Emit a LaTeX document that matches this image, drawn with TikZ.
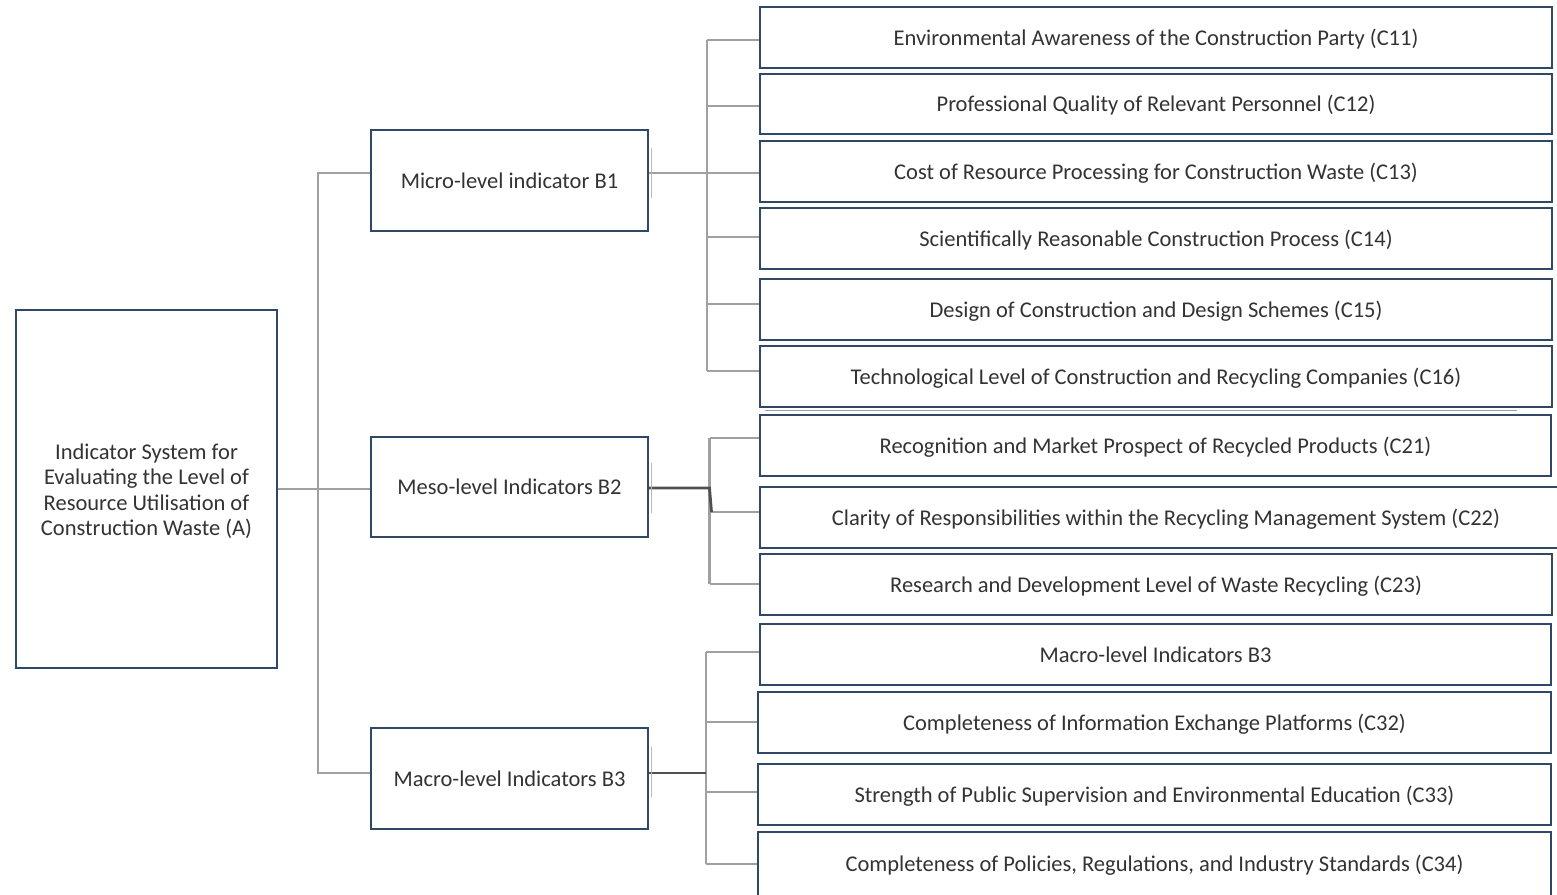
\documentclass[tikz,border=0pt]{standalone}
\usepackage{fontspec}
\setmainfont{Carlito}
\begin{document}
\begin{tikzpicture}[x=1pt,y=-1pt,
  boxbase/.style={draw=boxc, line width=1.9pt, fill=white, inner sep=0pt, text=txtc,
    font=\fontsize{22.5}{25.5}\selectfont, align=center},
  box/.style={boxbase, text height=19.4pt, text depth=4pt},
  conn/.style={draw=connc, line width=2.8pt},
  dconn/.style={draw=darkc, line width=2.8pt},
  faint/.style={draw=faintc, line width=1.8pt}]
\definecolor{boxc}{HTML}{2F4866}
\definecolor{txtc}{HTML}{333333}
\definecolor{connc}{HTML}{A0A0A0}
\definecolor{darkc}{HTML}{505050}
\definecolor{faintc}{HTML}{B8B8B8}
\useasboundingbox[fill=white] (0,0) rectangle (1557,894);
\begin{scope}
\clip (0,0) rectangle (1557,894);
\coordinate (tA) at (318,0);
\coordinate (t1) at (707,0);
\coordinate (t2) at (709.5,0);
\coordinate (t3) at (706,0);

% nodes
\node[boxbase, text height=98pt, text depth=5pt, minimum width=261pt, minimum height=358pt] (A) at (146.5,489)
  {Indicator System for\\Evaluating the Level of\\Resource Utilisation of\\Construction Waste (A)};
\node[box, minimum width=277pt, minimum height=101pt] (B1) at (509.5,180.5) {Micro-level indicator B1};
\node[box, minimum width=277pt, minimum height=100pt] (B2) at (509.5,487) {Meso-level Indicators B2};
\node[box, minimum width=277pt, minimum height=101pt] (B3) at (509.5,778.5) {Macro-level Indicators B3};

\node[box, minimum width=792pt, minimum height=61pt] (C11) at (1156,37.5) {Environmental Awareness of the Construction Party (C11)};
\node[box, minimum width=792pt, minimum height=60pt] (C12) at (1156,104) {Professional Quality of Relevant Personnel (C12)};
\node[box, minimum width=792pt, minimum height=61pt] (C13) at (1156,171.5) {Cost of Resource Processing for Construction Waste (C13)};
\node[box, minimum width=792pt, minimum height=61pt] (C14) at (1156,238.5) {Scientifically Reasonable Construction Process (C14)};
\node[box, minimum width=792pt, minimum height=61pt] (C15) at (1156,309.5) {Design of Construction and Design Schemes (C15)};
\node[box, minimum width=792pt, minimum height=61pt] (C16) at (1156,376.5) {Technological Level of Construction and Recycling Companies (C16)};
\draw[faint, draw=connc] (765,410.5) -- (1517,410.5);
\node[box, minimum width=791pt, minimum height=61pt] (C21) at (1155.5,445.5) {Recognition and Market Prospect of Recycled Products (C21)};
\node[box, minimum width=812pt, minimum height=61pt] (C22) at (1166,517.5) {Clarity of Responsibilities within the Recycling Management System (C22)};
\node[box, minimum width=792pt, minimum height=61pt] (C23) at (1156,584.5) {Research and Development Level of Waste Recycling (C23)};
\node[box, minimum width=791pt, minimum height=61pt] (C31) at (1155.5,654.5) {Macro-level Indicators B3};
\node[box, minimum width=793pt, minimum height=61pt] (C32) at (1154.5,722.5) {Completeness of Information Exchange Platforms (C32)};
\node[box, minimum width=793pt, minimum height=61pt] (C33) at (1154.5,794.5) {Strength of Public Supervision and Environmental Education (C33)};
\node[box, minimum width=793pt, minimum height=64pt] (C34) at (1154.5,864) {Completeness of Policies, Regulations, and Industry Standards (C34)};

% attachment points
\coordinate (b1in) at ([yshift=7.5pt]B1.west);
\coordinate (b1out) at ([yshift=7.5pt]B1.east);
\coordinate (b2out) at ([yshift=-1pt]B2.east);
\coordinate (b3in) at ([yshift=5.5pt]B3.west);
\coordinate (b3out) at ([yshift=5.5pt]B3.east);
\coordinate (c11) at ([yshift=-2.5pt]C11.west);
\coordinate (c12) at ([yshift=-2pt]C12.west);
\coordinate (c13) at ([yshift=-1.5pt]C13.west);
\coordinate (c14) at ([yshift=1.5pt]C14.west);
\coordinate (c15) at ([yshift=5.5pt]C15.west);
\coordinate (c16) at ([yshift=5.5pt]C16.west);
\coordinate (c21) at ([yshift=7.5pt]C21.west);
\coordinate (c22) at ([yshift=5.5pt]C22.west);
\coordinate (c23) at ([yshift=0.5pt]C23.west);
\coordinate (c31) at ([yshift=2.5pt]C31.west);
\coordinate (c32) at ([yshift=0.5pt]C32.west);
\coordinate (c33) at ([yshift=2.5pt]C33.west);
\coordinate (c34) at (C34.west);

% level A -> B
\draw[conn] (A.east) -- (A.east -| B2.west);
\draw[conn] (b1in) -| (tA |- b3in) -- (b3in);

% B1 -> C1x
\draw[conn] (t1 |- c11) -- (t1 |- c16);
\draw[conn] (b1out) -- (c13);
\foreach \c in {c11,c12,c14,c15,c16} \draw[conn] (t1 |- \c) -- (\c);

% B2 -> C2x
\draw[conn] (t2 |- c21) -- (t2 |- c23);
\foreach \c in {c21,c22,c23} \draw[conn] (t2 |- \c) -- (\c);
\draw[dconn] (b2out) -- (t2 |- b2out) -- ([xshift=2pt]t2 |- c22);

% B3 -> C3x
\draw[conn] (t3 |- c31) -- (t3 |- c34);
\foreach \c in {c31,c32,c33,c34} \draw[conn] (t3 |- \c) -- (\c);
\draw[dconn] (b3out) -- (t3 |- b3out);

% faint shadow ticks beside B boxes
\draw[faint] ([xshift=2.5pt,yshift=33pt]B1.east) -- ([xshift=2.5pt,yshift=-17pt]B1.east);
\draw[faint] ([xshift=2.5pt,yshift=24pt]B2.east) -- ([xshift=2.5pt,yshift=-26pt]B2.east);
\draw[faint] ([xshift=2.5pt,yshift=31.5pt]B3.east) -- ([xshift=2.5pt,yshift=-18.5pt]B3.east);
\end{scope}
\end{tikzpicture}
\end{document}
